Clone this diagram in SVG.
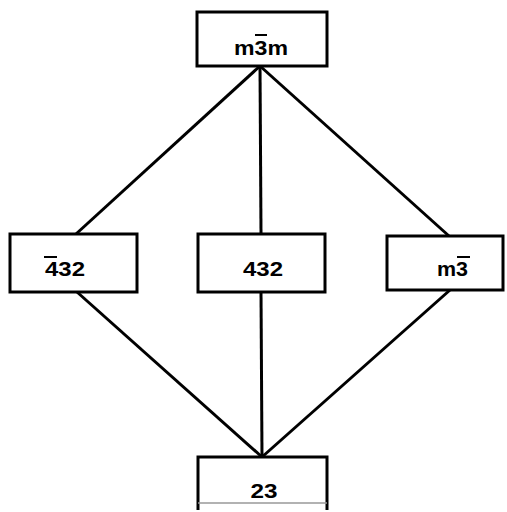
<svg xmlns="http://www.w3.org/2000/svg" width="507" height="512" viewBox="0 0 507 512">
<style>
.box{fill:#fff;stroke:#000;stroke-width:3}
.lbl{font-family:"Liberation Sans",Arial,sans-serif;font-size:20px;font-weight:bold;fill:#000;text-anchor:middle}
.bar{stroke:#000;stroke-width:2}
.edge{stroke:#000;stroke-width:3;fill:none}
</style>
<rect width="507" height="512" fill="#fff"/>
<g id="connectors">
<line class="edge" x1="260" y1="66" x2="76" y2="234"/>
<line class="edge" x1="260" y1="66" x2="261" y2="234"/>
<line class="edge" x1="260" y1="66" x2="449" y2="236"/>
<line class="edge" x1="77" y1="292" x2="262" y2="457"/>
<line class="edge" x1="261" y1="292" x2="262" y2="457"/>
<line class="edge" x1="450" y1="290" x2="262" y2="457"/>
</g>
<g id="m3m">
<rect class="box" x="197" y="12" width="130" height="54"/>
<text class="lbl" x="261" y="55" textLength="54" lengthAdjust="spacingAndGlyphs">m3m</text>
<line class="bar" x1="255" y1="35" x2="267" y2="35"/>
</g>
<g id="n-4bar32">
<rect class="box" x="10" y="234" width="127" height="58"/>
<text class="lbl" x="65" y="276" textLength="40" lengthAdjust="spacingAndGlyphs">432</text>
<line class="bar" x1="44" y1="257" x2="57" y2="257"/>
</g>
<g id="n432">
<rect class="box" x="198" y="234" width="127" height="58"/>
<text class="lbl" x="263" y="276" textLength="40" lengthAdjust="spacingAndGlyphs">432</text>
</g>
<g id="m3">
<rect class="box" x="387" y="236" width="116" height="54"/>
<text class="lbl" x="452.5" y="276" textLength="31" lengthAdjust="spacingAndGlyphs">m3</text>
<line class="bar" x1="457" y1="257" x2="470" y2="257"/>
</g>
<g id="n23">
<path d="M198,510 V457 H327 V510" fill="#fff" stroke="#000" stroke-width="3"/>
<line x1="198" y1="503" x2="327" y2="503" stroke="#999" stroke-width="1.5"/>
<text class="lbl" x="264" y="498" textLength="27" lengthAdjust="spacingAndGlyphs">23</text>
</g>
</svg>
